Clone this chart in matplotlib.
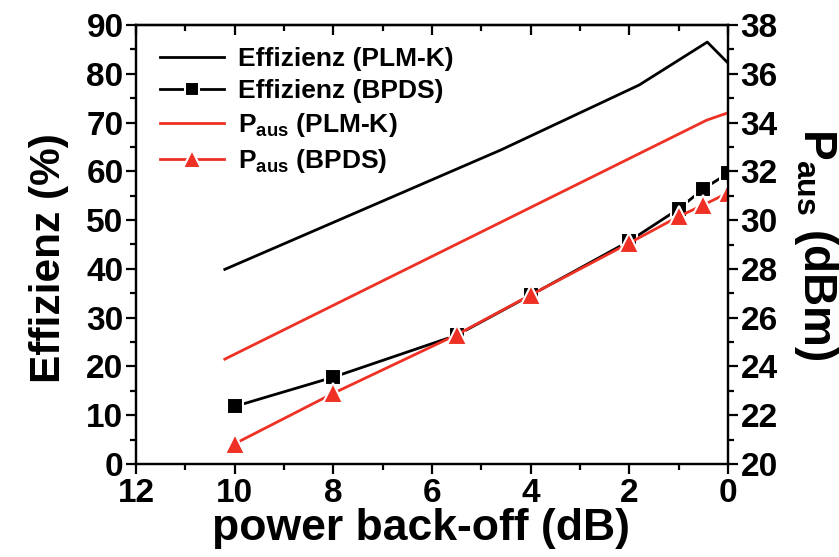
import matplotlib
matplotlib.use("Agg")
import matplotlib.pyplot as plt
from matplotlib.ticker import MultipleLocator

plt.rcParams['font.family'] = ['Liberation Sans', 'DejaVu Sans']
plt.rcParams['font.weight'] = 'bold'
plt.rcParams['mathtext.fontset'] = 'custom'
plt.rcParams['mathtext.rm'] = 'Liberation Sans'
plt.rcParams['mathtext.bf'] = 'Liberation Sans:bold'

# Efficiency, PLM-K (solid, no markers)
eff_plm_x = [10.2, 4.6, 1.8, 0.42, 0.0]
eff_plm_y = [39.9, 64.4, 77.7, 86.5, 82.2]

# Efficiency, BPDS (measured points)
eff_bpds_x = [10.0, 8.0, 5.5, 4.0, 2.0, 1.0, 0.5, 0.0]
eff_bpds_y = [11.8, 17.8, 26.4, 34.6, 45.7, 52.3, 56.4, 59.6]

# Output power, PLM-K
p_plm_x = [10.2, 0.43, 0.0]
p_plm_y = [24.3, 34.1, 34.4]

# Output power, BPDS
p_bpds_x = [10.0, 8.0, 5.5, 4.0, 2.0, 1.0, 0.5, 0.0]
p_bpds_y = [20.83, 22.9, 25.3, 26.93, 29.06, 30.15, 30.62, 31.12]

RED = '#ee3124'

fig = plt.figure(figsize=(8.39, 5.57), dpi=100)
ax = fig.add_axes([136/839, 1-464/557, (728-136)/839, (464-25)/557])
ax2 = ax.twinx()

l1, = ax.plot(eff_plm_x, eff_plm_y, color='black', lw=2.0, label='Effizienz (PLM-K)')
l2, = ax.plot(eff_bpds_x, eff_bpds_y, color='black', lw=2.0, marker='s',
              ms=11.5, mfc='black', mec='white', mew=1.5, label='Effizienz (BPDS)')
l3, = ax2.plot(p_plm_x, p_plm_y, color=RED, lw=2.0, label=r'P$_{\mathrm{aus}}$ (PLM-K)')
l4, = ax2.plot(p_bpds_x, p_bpds_y, color=RED, lw=2.0, marker='^',
               ms=15, mfc=RED, mec='white', mew=1.5, label=r'P$_{\mathrm{aus}}$ (BPDS)')

ax.set_xlim(12, 0)
ax.set_ylim(0, 90)
ax2.set_ylim(20, 38)

ax.xaxis.set_major_locator(MultipleLocator(2))
ax.xaxis.set_minor_locator(MultipleLocator(1))
ax.yaxis.set_major_locator(MultipleLocator(10))
ax.yaxis.set_minor_locator(MultipleLocator(5))
ax2.yaxis.set_major_locator(MultipleLocator(2))
ax2.yaxis.set_minor_locator(MultipleLocator(1))

for a in (ax, ax2):
    for s in a.spines.values():
        s.set_linewidth(1.6)

TICK_FS = 24
ax.tick_params(axis='x', which='both', direction='out', bottom=True, top=False,
               labelsize=TICK_FS, width=1.6, pad=3)
ax.tick_params(axis='x', which='major', length=7)
ax.tick_params(axis='x', which='minor', length=4)
ax.tick_params(axis='y', which='both', direction='out', left=True, right=False,
               labelsize=TICK_FS, width=1.6, pad=2)
ax.tick_params(axis='y', which='major', length=7)
ax.tick_params(axis='y', which='minor', length=4)
ax2.tick_params(axis='y', which='both', direction='out', labelsize=TICK_FS, width=1.6, pad=2)
ax2.tick_params(axis='y', which='major', length=7)
ax2.tick_params(axis='y', which='minor', length=4)

# inward ticks along the top edge
top = ax.secondary_xaxis('top')
top.xaxis.set_major_locator(MultipleLocator(2))
top.xaxis.set_minor_locator(MultipleLocator(1))
top.tick_params(which='both', direction='in', labeltop=False, width=1.6)
top.tick_params(which='major', length=7)
top.tick_params(which='minor', length=4)
top.spines['top'].set_linewidth(1.6)

for lab in ax.get_xticklabels() + ax.get_yticklabels() + ax2.get_yticklabels():
    lab.set_fontweight('bold')

ax.set_xlabel('power back-off (dB)', fontsize=32, fontweight='bold')
ax.xaxis.set_label_coords(0.482, -0.1, transform=ax.transAxes)
ax.set_ylabel('Effizienz (%)', fontsize=30.5, fontweight='bold')
ax.yaxis.set_label_coords(-0.113, 0.47, transform=ax.transAxes)
ax2.set_ylabel(r'P$_{\mathrm{aus}}$ (dBm)', fontsize=33, fontweight='bold',
               rotation=270, labelpad=45)

leg = ax2.legend(handles=[l1, l2, l3, l4], loc='upper left',
                 bbox_to_anchor=(0.0, 1.003), frameon=False,
                 prop={'size': 19, 'weight': 'bold'}, handlelength=2.45,
                 handletextpad=0.5, labelspacing=0.3, markerscale=0.85)

fig.savefig('out.png', dpi=100)
